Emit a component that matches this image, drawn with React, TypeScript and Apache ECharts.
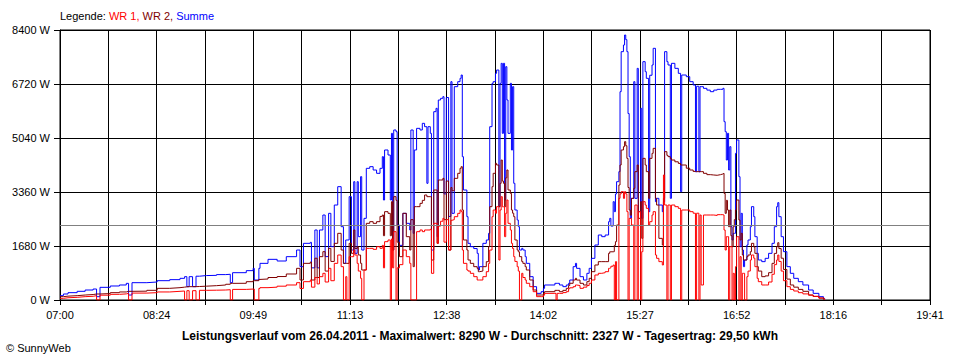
import React, { useEffect, useRef } from 'react';
import * as echarts from 'echarts';

// minutes after 07:00
const times = [
  0, 3, 7, 15, 22, 29, 32, 35, 44, 52, 58, 60, 63, 76, 85, 96, 105, 109, 111, 113, 116, 119, 122, 128, 137, 145, 149, 151, 163, 169, 170, 174, 175, 182, 190, 198, 207, 210, 213, 219, 220, 223, 225, 227, 230, 232, 235, 237, 240, 243,
  246, 248, 250, 251, 253, 255, 257, 258, 260, 261, 263, 264, 266, 268, 271, 274, 277, 280, 282, 283, 284, 287, 289, 290, 291, 292, 294, 295, 297, 300, 303, 306, 307, 309, 310, 312, 315, 317, 319, 321, 322, 324, 325, 327, 329, 330, 331, 333, 335, 336, 338, 340, 342, 343, 345, 348, 350, 351,
  352, 353, 356, 357, 359, 362, 365, 366, 367, 370, 373, 375, 376, 378, 379, 381, 382, 384, 385, 386, 387, 388, 389, 390, 391, 392, 394, 395, 396, 397, 398, 400, 401, 402, 404, 405, 407, 408, 411, 414, 417, 421, 423, 424, 433, 434, 435, 437, 440, 443, 445, 446, 449, 451, 452, 455, 458, 461, 463,
  465, 468, 471, 474, 477, 480, 481, 482, 484, 485, 486, 487, 489, 490, 491, 493, 494, 495, 496, 497, 498, 499, 500, 502, 503, 505, 506, 508, 509, 510, 512, 513, 515, 516, 518, 519, 521, 522, 524, 527, 528, 529, 531, 532, 534, 535, 538, 541, 543, 544, 548, 551, 554, 556, 557, 559, 560, 561, 563, 566, 569, 572,
  575, 578, 580, 581, 582, 583, 584, 585, 586, 587, 588, 589, 590, 591, 592, 594, 595, 596, 597, 598, 599, 601, 602, 604, 605, 607, 608, 610, 611, 614, 617, 620, 623, 625, 627, 628, 629, 631, 633, 636, 639, 642, 646, 650, 655, 659, 664, 668, 669,
];

const summe = [
  135, 187, 228, 270, 311, 342, 104, 394, 436, 467, 518, 155, 539, 560, 601, 633, 674, 726, 415, 726, 415, 740, 760, 767, 790, 800, 540, 850, 913, 985, 622, 985, 1140, 1265, 1213, 1348, 1555, 1037, 1763, 1794, 1000, 2178, 1000, 2178, 2644, 1350, 2696, 1660, 2955, 3526,
  2281, 1140, 1867, 1867, 3215, 1555, 3681, 1452, 3681, 1970, 3837, 1555, 2540, 4096, 4148, 4044, 3941, 4096, 4459, 3111, 4667, 4511, 3111, 5185, 1555, 5289, 5237, 2333, 1700, 2696, 2385, 2178, 5289, 2074, 4667, 5340, 5289, 5496, 5392, 3630, 5392, 5185, 1555, 5859, 5963, 1970, 6222, 6274, 6326, 3300, 6300, 2600, 6792, 2696, 6637, 6792, 6896, 7000,
  4459, 3422, 2592, 1763, 1659, 1600, 1452, 933, 1037, 1763, 1867, 2074, 5392, 6740, 6792, 7052, 7155, 2904, 6740, 7363, 5185, 7363, 3111, 7259, 6222, 5185, 6740, 4667, 6637, 3630, 2800, 2489, 2281, 1555, 1607, 1555, 1348, 1140, 726, 415, 207, 259, 363, 467, 519, 519, 519, 467, 415, 467, 519, 622, 1037, 1140, 985, 726, 622, 830, 985,
  1296, 1711, 2022, 1970, 2022, 2437, 2540, 2300, 3059, 2748, 3300, 3681, 3993, 6481, 7726, 7933, 8244, 8100, 7726, 5800, 4459, 2540, 3163, 6792, 3163, 7207, 2748, 5963, 2540, 7415, 7104, 6896, 2748, 6992, 7311, 7830, 3059, 3163, 2955, 2748, 3059, 7726, 7415, 7311, 3163, 7363, 7207, 7052, 3370, 7000, 6948, 6792, 6689, 3989, 6650, 3989, 6637, 6637, 6585, 6530, 6481, 6530,
  6554, 6554, 6585, 5548, 5237, 4355, 5185, 4044, 4770, 2281, 1867, 2074, 2074, 4563, 4978, 3837, 1659, 2696, 1555, 1037, 1244, 1711, 1867, 2281, 2904, 2592, 1970, 1452, 1244, 1193, 1296, 1452, 1763, 2281, 2904, 3028, 2592, 1970, 1504, 1037, 830, 674, 570, 467, 311, 207, 104, 52, 20,
];

const wr2 = [
  104, 120, 135, 155, 170, 187, 187, 200, 228, 250, 270, 270, 275, 301, 363, 384, 400, 410, 415, 415, 415, 420, 430, 446, 467, 490, 518, 520, 570, 601, 601, 640, 653, 700, 730, 809, 985, 622, 1140, 1182, 622, 1300, 700, 1348, 1504, 900, 1607, 1200, 1763, 2074,
  1555, 1140, 1140, 1140, 1763, 1452, 2178, 1600, 1659, 1400, 1140, 933, 933, 2385, 2437, 2385, 2437, 2600, 2644, 2000, 2748, 2696, 2000, 3059, 1555, 3215, 3100, 1800, 1348, 2696, 1970, 1555, 2500, 1037, 2904, 2904, 3007, 3100, 3267, 3215, 3215, 3215, 1244, 3422, 3422, 1763, 3733, 3733, 3785, 2500, 3700, 1555, 3500, 3400, 3785, 3941, 4096, 4148,
  2800, 1867, 1555, 1244, 1140, 1037, 985, 881, 900, 1037, 1192, 1659, 2904, 3526, 3941, 4252, 4200, 2904, 3630, 4355, 3700, 3630, 2904, 3800, 4044, 3422, 3318, 2800, 2700, 2592, 1867, 1555, 1500, 1348, 1200, 1140, 1037, 933, 622, 311, 155, 155, 207, 259, 300, 300, 300, 259, 300, 363, 450, 520, 622, 674, 620, 519, 467, 570, 674,
  881, 1089, 1193, 1193, 1193, 1452, 1500, 1500, 1504, 1700, 1815, 2333, 3578, 4200, 4667, 4770, 4926, 4800, 4407, 3500, 2800, 2640, 3163, 3474, 3993, 4200, 2540, 3059, 1918, 4407, 4200, 3993, 3163, 4407, 4563, 4718, 3163, 2955, 1918, 1711, 3163, 4615, 4500, 4460, 4400, 4355, 4300, 4250, 4200, 4200, 4100, 4044, 4000, 3993, 3993, 3993, 3993, 3993, 3941, 3900, 3889, 3880,
  3900, 3920, 3941, 3318, 2696, 3100, 2800, 2281, 2800, 2000, 1659, 2281, 2500, 2800, 3111, 2489, 1867, 2074, 1400, 1244, 1244, 1348, 1400, 1504, 1763, 1650, 1452, 1037, 900, 726, 750, 850, 1140, 1450, 1659, 1783, 1600, 1300, 950, 650, 467, 400, 330, 270, 156, 110, 60, 21, 10,
];

const wr1 = [
  52, 70, 83, 104, 115, 135, 0, 150, 176, 190, 207, 0, 215, 228, 250, 270, 280, 0, 290, 0, 290, 0, 301, 305, 311, 320, 0, 330, 340, 342, 0, 360, 384, 400, 430, 467, 539, 360, 570, 622, 400, 700, 500, 726, 830, 560, 985, 600, 1140, 1400,
  1037, 0, 726, 0, 1348, 1348, 1555, 1400, 1140, 900, 674, 0, 933, 1607, 1607, 1576, 1659, 1607, 1700, 1000, 1815, 1867, 0, 1900, 1000, 2126, 0, 1000, 1100, 1555, 1348, 1140, 0, 0, 0, 2126, 2178, 2126, 2178, 2178, 2178, 2200, 830, 2385, 2385, 1763, 2300, 2450, 2540, 1800, 2500, 1555, 2480, 2500, 2592, 2696, 2800, 2750,
  1555, 1140, 933, 900, 830, 726, 622, 622, 622, 726, 881, 1140, 1555, 2592, 2800, 2700, 2904, 1244, 2800, 3215, 2900, 2904, 1970, 2700, 3111, 2385, 2178, 1763, 1600, 1348, 1200, 1037, 900, 0, 830, 700, 622, 520, 415, 259, 104, 104, 150, 207, 207, 0, 207, 207, 230, 259, 350, 380, 415, 467, 450, 363, 400, 450, 520,
  622, 778, 830, 850, 881, 985, 1000, 1050, 1089, 0, 1193, 0, 3163, 3300, 3370, 3163, 3370, 3300, 2748, 0, 2540, 2540, 2333, 0, 2955, 0, 2748, 0, 1504, 3059, 2955, 2852, 2333, 2437, 2644, 2748, 1400, 1296, 1193, 1089, 3889, 2955, 0, 2955, 0, 2955, 2904, 2852, 0, 2800, 2800, 2748, 2700, 0, 2700, 0, 2644, 467, 2644, 2644, 2644, 2630,
  2655, 2655, 2644, 2178, 1555, 1970, 1970, 0, 1659, 1659, 0, 830, 0, 1037, 1970, 0, 1348, 0, 830, 830, 0, 726, 900, 1244, 1400, 1300, 1037, 674, 570, 467, 467, 560, 800, 1100, 1244, 1400, 1200, 900, 600, 415, 330, 280, 228, 190, 150, 115, 60, 40, 10,
];

const xTickLabels = ['07:00', '08:24', '09:49', '11:13', '12:38', '14:02', '15:27', '16:52', '18:16', '19:41'];
const yMax = 8400;
const yStep = 1680;
const average = 2327;
const xStep = 42.29; // minutes per vertical grid column
const xMax = 761.22;

const titleText = 'Leistungsverlauf vom 26.04.2011 - Maximalwert: 8290 W - Durchschnitt: 2327 W - Tagesertrag: 29,50 kWh';
const FONT = '"Liberation Sans", Arial, sans-serif';

export default function App() {
  const ref = useRef<HTMLDivElement>(null);
  useEffect(() => {
    const chart = echarts.init(ref.current!, null, { renderer: 'svg' });
    const pair = (vals: number[]) => times.map((t, i) => [t, vals[i]]);
    const lineSeries = (name: string, vals: number[], color: string, extra: any = {}) => ({
      name,
      type: 'line',
      data: pair(vals),
      step: 'end',
      showSymbol: false,
      symbol: 'none',
      lineStyle: { color, width: 1 },
      itemStyle: { color },
      ...extra,
    });
    chart.setOption({
      animation: false,
      backgroundColor: '#ffffff',
      textStyle: { fontFamily: FONT },
      title: [
        {
          left: 60,
          top: 10,
          padding: 0,
          text: '{k|Legende: }{r|WR 1, }{d|WR 2, }{b|Summe}',
          textStyle: {
            fontSize: 11,
            fontWeight: 'normal',
            fontFamily: FONT,
            rich: {
              k: { color: '#000000', fontSize: 11, fontFamily: FONT },
              r: { color: '#ff0000', fontSize: 11, fontFamily: FONT },
              d: { color: '#800000', fontSize: 11, fontFamily: FONT },
              b: { color: '#0000ff', fontSize: 11, fontFamily: FONT },
            },
          },
        },
        {
          left: 'center',
          top: 330,
          padding: 0,
          text: titleText,
          textStyle: { fontSize: 12, fontWeight: 'bold', color: '#000000', fontFamily: FONT },
        },
        {
          left: 6,
          top: 342,
          padding: 0,
          text: '© SunnyWeb',
          textStyle: { fontSize: 11, fontWeight: 'normal', color: '#000000', fontFamily: FONT },
        },
      ],
      grid: {
        left: 60,
        right: 30,
        top: 30,
        bottom: 60,
        show: true,
        borderColor: '#000000',
        borderWidth: 1,
        backgroundColor: '#ffffff',
      },
      xAxis: {
        type: 'value',
        min: 0,
        max: xMax,
        interval: xStep,
        axisLine: { show: true, lineStyle: { color: '#000000', width: 1 } },
        axisTick: { show: true, length: 5, lineStyle: { color: '#000000' } },
        splitLine: { show: true, lineStyle: { color: '#000000', width: 1 } },
        axisLabel: {
          color: '#000000',
          fontSize: 11,
          fontFamily: FONT,
          margin: 9,
          showMinLabel: true,
          showMaxLabel: true,
          formatter: (v: number) => {
            const i = Math.round(v / xStep);
            return i % 2 === 0 ? xTickLabels[i / 2] ?? '' : '';
          },
        },
      },
      yAxis: {
        type: 'value',
        min: 0,
        max: yMax,
        interval: yStep,
        axisLine: { show: true, lineStyle: { color: '#000000', width: 1 } },
        axisTick: { show: true, length: 6, lineStyle: { color: '#000000' } },
        splitLine: { show: true, lineStyle: { color: '#000000', width: 1 } },
        axisLabel: {
          color: '#000000',
          fontSize: 11,
          fontFamily: FONT,
          margin: 10,
          formatter: (v: number) => `${Math.round(v)} W`,
        },
      },
      series: [
        lineSeries('Summe', summe, '#0000ff', {
          markLine: {
            silent: true,
            symbol: 'none',
            label: { show: false },
            lineStyle: { color: '#808080', width: 1, type: 'solid' },
            data: [{ yAxis: average }],
          },
        }),
        lineSeries('WR 2', wr2, '#800000'),
        lineSeries('WR 1', wr1, '#ff0000'),
      ],
    });
    return () => chart.dispose();
  }, []);
  return (
    <div
      ref={ref}
      style={{ position: 'fixed', left: 0, top: 0, width: 960, height: 360, background: '#ffffff' }}
    />
  );
}
